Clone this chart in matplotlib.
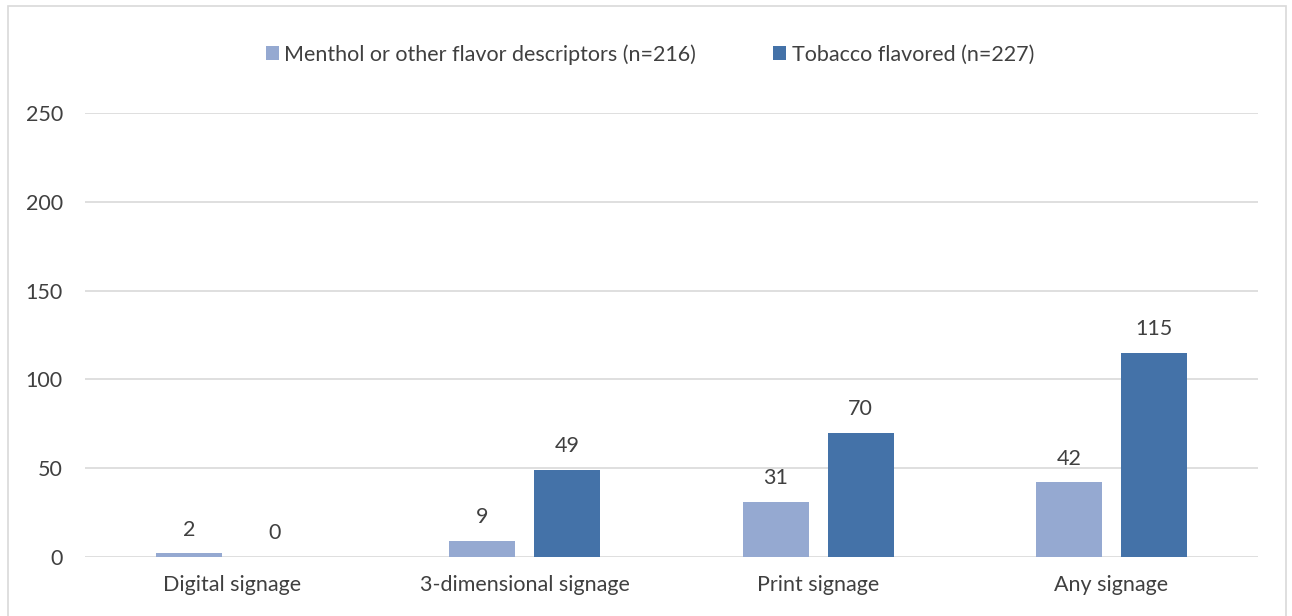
import matplotlib.pyplot as plt
from matplotlib.patches import Rectangle
import numpy as np

categories = ["Digital signage", "3-dimensional signage", "Print signage", "Any signage"]
menthol = [2, 9, 31, 42]
tobacco = [0, 49, 70, 115]
series_labels = ["Menthol or other flavor descriptors (n=216)", "Tobacco flavored (n=227)"]
yticks = [0, 50, 100, 150, 200, 250]

plt.rcParams['font.family'] = ['Lato', 'DejaVu Sans']
text_color = "#404040"

fig = plt.figure(figsize=(12.92, 6.16), dpi=100)
ax = fig.add_axes([0.0658, 0.0958, 0.9079, 0.7208])

x = np.arange(len(categories))
w = 0.225
off = 0.145
b1 = ax.bar(x - off, menthol, w, color="#95A9D1", label=series_labels[0], zorder=3)
b2 = ax.bar(x + off, tobacco, w, color="#4472A8", label=series_labels[1], zorder=3)

# value labels above each bar
for bars, vals in ((b1, menthol), (b2, tobacco)):
    for rect, v in zip(bars, vals):
        ax.annotate(str(v), (rect.get_x() + rect.get_width() / 2, v),
                    xytext=(0, 10), textcoords="offset points",
                    ha="center", va="bottom", fontsize=15.5, color=text_color)

ax.set_xlim(-0.5, len(categories) - 0.5)
ax.set_ylim(0, 250)
ax.set_yticks(yticks)
ax.set_xticks(x)
ax.set_xticklabels(categories)
ax.tick_params(axis="both", length=0, labelsize=15.5, labelcolor=text_color)
ax.tick_params(axis="y", pad=16)
ax.tick_params(axis="x", pad=13)
ax.grid(axis="y", color="#D9D9D9", linewidth=1.2, zorder=0)
for s in ax.spines.values():
    s.set_visible(False)

fig.legend(loc="center", bbox_to_anchor=(0.503, 0.912), ncol=2, frameon=False,
           fontsize=15.5, handlelength=0.6, handleheight=0.6, handletextpad=0.25,
           columnspacing=3.6, labelcolor=text_color)

# chart frame
fig.patches.append(Rectangle((8 / 1292, -0.01), 1278 / 1292, 1 - 6 / 616 + 0.01,
                             transform=fig.transFigure, fill=False,
                             edgecolor="#D9D9D9", linewidth=1.2))

fig.savefig("out.png", dpi=100)
